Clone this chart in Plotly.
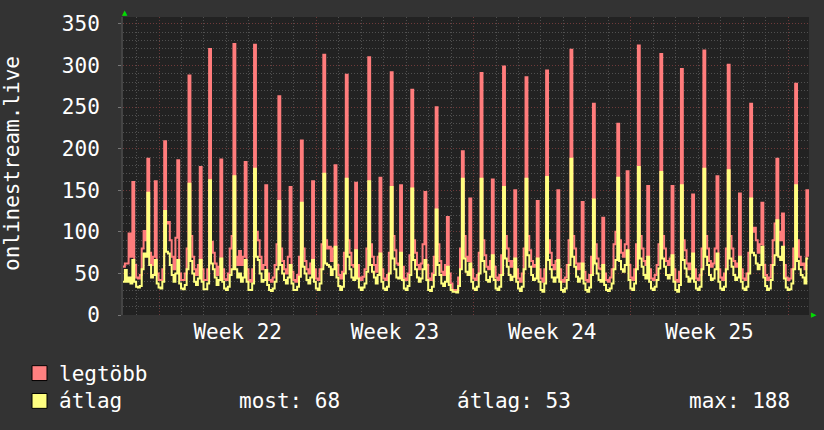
import plotly.graph_objects as go

# ---------------- data (2-hour samples) ----------------
STEP_H = 2
legtobb = [
    58, 62, 62, 98, 70, 160, 60, 45, 44, 48, 80, 101,
    90, 188, 75, 60, 70, 161, 50, 42, 42, 55, 209, 110,
    112, 90, 70, 55, 93, 186, 50, 42, 42, 50, 80, 288,
    95, 70, 55, 48, 60, 178, 55, 42, 42, 55, 320, 88,
    75, 62, 48, 58, 187, 55, 43, 42, 50, 80, 95, 326,
    70, 60, 77, 60, 70, 184, 55, 42, 40, 55, 325, 100,
    90, 70, 55, 60, 156, 50, 42, 40, 45, 60, 85, 263,
    80, 65, 55, 50, 70, 154, 52, 42, 40, 48, 70, 210,
    80, 65, 55, 50, 62, 161, 55, 44, 42, 55, 85, 313,
    90, 80, 82, 65, 80, 180, 60, 48, 44, 52, 75, 289,
    90, 75, 60, 58, 159, 60, 45, 42, 46, 55, 80, 310,
    85, 70, 60, 52, 70, 165, 55, 44, 42, 48, 75, 292,
    95, 78, 62, 60, 156, 58, 44, 42, 50, 72, 271, 90,
    75, 60, 55, 62, 85, 148, 60, 44, 42, 50, 70, 250,
    85, 65, 52, 48, 60, 118, 50, 38, 30, 30, 30, 45,
    80, 197, 95, 70, 65, 140, 55, 44, 42, 48, 75, 291,
    90, 72, 58, 55, 65, 163, 58, 45, 42, 48, 72, 299,
    95, 80, 65, 58, 65, 150, 55, 44, 40, 50, 80, 286,
    95, 78, 65, 58, 60, 137, 55, 44, 40, 55, 294, 90,
    75, 60, 55, 65, 150, 55, 42, 40, 45, 60, 90, 319,
    95, 80, 62, 55, 62, 136, 52, 42, 40, 48, 70, 254,
    85, 68, 56, 55, 117, 50, 42, 40, 45, 55, 85, 100,
    230, 90, 75, 70, 85, 173, 60, 45, 42, 55, 85, 324,
    95, 80, 65, 60, 155, 55, 44, 42, 48, 60, 85, 314,
    95, 80, 65, 60, 68, 155, 55, 42, 40, 52, 296, 90,
    78, 62, 55, 62, 145, 55, 44, 42, 48, 80, 318, 95,
    80, 65, 58, 62, 80, 167, 55, 45, 42, 50, 80, 301,
    95, 80, 65, 58, 62, 146, 55, 44, 42, 50, 75, 254,
    100, 105, 90, 75, 85, 135, 60, 48, 42, 45, 60, 90,
    110, 188, 100, 90, 122, 60, 45, 42, 44, 55, 80, 278,
    90, 70, 60, 62, 55, 150, 70,
]
atlag = [
    40, 54, 40, 45, 38, 66, 40, 34, 33, 35, 55, 74,
    70, 147, 60, 45, 48, 66, 38, 33, 32, 40, 125, 76,
    74, 60, 48, 40, 50, 66, 38, 32, 31, 36, 55, 158,
    65, 50, 40, 36, 44, 66, 40, 31, 31, 38, 162, 62,
    55, 45, 36, 42, 68, 40, 32, 30, 34, 48, 55, 167,
    55, 45, 50, 40, 45, 66, 40, 30, 30, 38, 176, 70,
    66, 50, 40, 42, 54, 36, 30, 29, 32, 40, 55, 137,
    60, 50, 42, 38, 45, 60, 38, 30, 30, 34, 46, 135,
    58, 50, 42, 38, 45, 66, 40, 32, 30, 38, 55, 170,
    62, 60, 58, 48, 55, 82, 45, 35, 30, 34, 50, 164,
    70, 55, 45, 42, 78, 44, 33, 30, 33, 38, 52, 161,
    60, 52, 45, 38, 48, 74, 40, 32, 30, 34, 50, 154,
    68, 55, 45, 44, 75, 42, 32, 30, 35, 48, 152, 66,
    55, 45, 40, 44, 55, 66, 42, 30, 29, 34, 48, 127,
    60, 48, 38, 35, 40, 58, 36, 30, 28, 28, 27, 35,
    55, 164, 68, 52, 48, 62, 40, 32, 30, 34, 50, 164,
    65, 52, 42, 40, 46, 72, 42, 32, 30, 34, 48, 154,
    68, 58, 48, 42, 46, 68, 40, 32, 29, 34, 55, 164,
    72, 58, 48, 42, 44, 68, 40, 30, 28, 38, 166, 66,
    55, 45, 40, 45, 66, 40, 30, 28, 32, 42, 60, 188,
    70, 58, 46, 40, 44, 62, 38, 30, 28, 33, 48, 139,
    62, 50, 42, 40, 60, 36, 30, 29, 32, 38, 55, 66,
    165, 65, 55, 52, 60, 78, 42, 32, 30, 38, 55, 178,
    68, 58, 48, 44, 70, 40, 32, 30, 34, 42, 56, 172,
    68, 58, 48, 44, 48, 72, 40, 30, 28, 36, 156, 66,
    56, 46, 40, 44, 74, 40, 32, 30, 34, 55, 176, 70,
    60, 48, 42, 44, 55, 74, 40, 32, 30, 34, 55, 174,
    68, 58, 48, 42, 45, 70, 40, 32, 30, 34, 50, 140,
    75, 72, 62, 55, 60, 82, 45, 35, 30, 32, 42, 60,
    72, 114, 70, 66, 82, 44, 33, 30, 31, 38, 55, 156,
    65, 55, 48, 45, 38, 68, 68,
]
hours = [i * STEP_H for i in range(len(legtobb))]

week_starts = [38.5, 206.5, 374.5, 542.5, 710.5]   # hours
week_labels = ["Week 22", "Week 23", "Week 24", "Week 25"]
X_MAX = 732.8
Y_MAX = 358.4

stat_texts = ["most: 68", "átlag: 53", "max: 188"]

# ---------------- styling ----------------
FONT = "DejaVu Sans Mono"
BG = "#333333"
PLOT_BG = "#222222"
RED = "#ff7c7c"
YEL = "#ffff80"
MAJOR_GRID = "#6e3a3a"
MINOR_GRID = "#505050"
DASH = "1px,2px"

L, T, W, H = 123, 15, 686, 300
def px(x):
    return (x - L) / W
def py(y):
    return (T + H - y) / H

week_mids = [(week_starts[k] + week_starts[k + 1]) / 2 for k in range(len(week_labels))]

fig = go.Figure()
fig.add_trace(go.Scatter(x=hours, y=legtobb, mode="lines", name="legtöbb",
                         line=dict(color=RED, width=2, shape="hv"),
                         showlegend=False, hoverinfo="skip"))
fig.add_trace(go.Scatter(x=hours, y=atlag, mode="lines", name="átlag",
                         line=dict(color=YEL, width=2, shape="hv"),
                         showlegend=False, hoverinfo="skip"))
fig.add_trace(go.Scatter(x=[week_starts[0]], y=[0], xaxis="x2", mode="markers",
                         marker=dict(opacity=0), showlegend=False, hoverinfo="skip"))

tickfont = dict(family=FONT, size=21, color="#ffffff")

fig.update_layout(
    width=824, height=430, autosize=False,
    margin=dict(l=L, r=824 - L - W, t=T, b=430 - T - H),
    paper_bgcolor=BG, plot_bgcolor=PLOT_BG,
    xaxis=dict(range=[0, X_MAX], tickvals=week_mids, ticktext=week_labels,
               showgrid=False, zeroline=False, ticks="", showline=False,
               tickfont=tickfont, ticklabelstandoff=2,
               minor=dict(tick0=week_starts[0], dtick=24, showgrid=True,
                          gridcolor=MINOR_GRID, griddash=DASH, gridwidth=1)),
    xaxis2=dict(overlaying="x", range=[0, X_MAX], tickvals=week_starts,
                showticklabels=False, showgrid=True, gridcolor=MAJOR_GRID,
                griddash=DASH, gridwidth=1, ticks="", zeroline=False, side="bottom"),
    yaxis=dict(range=[0, Y_MAX], tick0=0, dtick=50, showgrid=True,
               gridcolor=MAJOR_GRID, griddash=DASH, gridwidth=1, zeroline=False,
               ticks="outside", ticklen=3, tickcolor="#777777",
               ticklabelstandoff=14, tickfont=tickfont,
               showline=True, linecolor="#444444", linewidth=2,
               minor=dict(dtick=10, showgrid=True, gridcolor=MINOR_GRID,
                          griddash=DASH, gridwidth=1)),
    showlegend=False,
)

def ann(text, x, y, xanchor="left", size=21, color="#ffffff", angle=0, family=FONT):
    return dict(text=text, x=px(x), y=py(y), xref="paper", yref="paper",
                xanchor=xanchor, yanchor="middle", showarrow=False, textangle=angle,
                font=dict(family=family, size=size, color=color))

annotations = [
    ann("onlinestream.live", 12, 163, xanchor="center", angle=-90),
    ann("▲", 125, 10.5, xanchor="center", size=7, color="#00dd00", family="DejaVu Sans"),
    ann("▶", 813.5, 314.5, xanchor="center", size=7, color="#00dd00", family="DejaVu Sans"),
    ann("legtöbb", 57, 374),
    ann("átlag", 57, 402),
]
for txt, xl in zip(stat_texts, [237, 455, 687]):
    annotations.append(ann(txt, xl, 402))
fig.update_layout(annotations=annotations)

shapes = []
for color, ytop in [("#ff8080", 366), ("#ffff80", 394)]:
    shapes.append(dict(type="rect", xref="paper", yref="paper",
                       x0=px(32), x1=px(47), y0=py(ytop + 15), y1=py(ytop),
                       fillcolor=color, line=dict(color="#000000", width=1)))
fig.update_layout(shapes=shapes)

fig.write_html("out.html")
